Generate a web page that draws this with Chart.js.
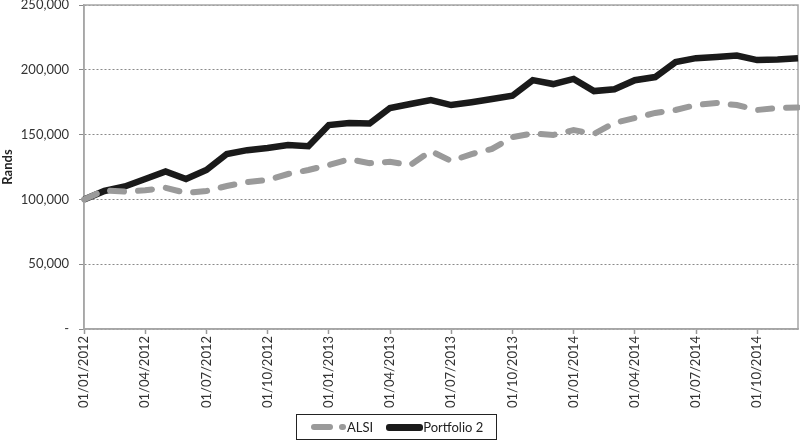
<!DOCTYPE html>
<html>
<head>
<meta charset="utf-8">
<script src="https://cdn.jsdelivr.net/npm/chart.js@4.4.1/dist/chart.umd.min.js"></script>
<style>
  html,body{margin:0;padding:0;background:#fff;}
  .wrap{position:relative;width:800px;height:441px;overflow:hidden;}
  #chart{position:absolute;left:0;top:0;}
  .legend{position:absolute;left:296px;top:414px;width:199px;height:24px;border:1.5px solid #222;
    font-family:Lato,"Open Sans",sans-serif;font-size:13px;color:#222;display:flex;align-items:center;}
  .pill{display:inline-block;height:6px;border-radius:3px;}
</style>
</head>
<body>
<div class="wrap">
  <canvas id="chart" width="800" height="441"></canvas>
  <div class="legend">
    <span class="pill" style="background:#9a9a9a;width:22px;margin-left:14px"></span>
    <span class="pill" style="background:#9a9a9a;width:7px;margin-left:6px"></span>
    <span style="margin-left:1px">ALSI</span>
    <span class="pill" style="background:#1a1a1a;width:37px;margin-left:13px;height:7px"></span>
    <span>Portfolio 2</span>
  </div>
</div>
<script>
// monthly, Jan 2012 .. Dec 2014
const months = [];
for (let y = 2012; y <= 2014; y++) for (let m = 1; m <= 12; m++) months.push('01/' + String(m).padStart(2,'0') + '/' + y);

const alsi = [100000,107000,106000,107000,109000,105000,106500,110300,113400,115000,119600,122700,
  126500,131000,128000,129000,126500,137300,129600,135000,139000,148000,151000,149700,
  153500,150500,159000,162800,166700,169000,172800,174400,172800,169000,170500,171000];
const portfolio2 = [100000,106500,110000,115700,121500,115700,122700,135000,138000,139700,142000,141000,
  157400,159000,158500,170500,173600,176700,172800,175000,177500,180000,192000,189000,
  193000,183600,185000,192000,194400,206000,209000,209900,211000,207500,208000,209000];

const yTicks = [0,50000,100000,150000,200000,250000];
const fmtY = (v) => v === 0 ? '-' : Number(v).toLocaleString('en-US');

const frame = {
  id: 'frame',
  beforeDatasetsDraw(chart){
    const {ctx, chartArea:a} = chart;
    ctx.save();
    ctx.strokeStyle = '#a6a6a6';
    ctx.lineWidth = 1.5;
    ctx.strokeRect(a.left, a.top, a.right - a.left, a.bottom - a.top);
    ctx.restore();
  }
};

new Chart(document.getElementById('chart'), {
  type: 'line',
  data: {
    labels: months,
    datasets: [
      {label:'ALSI', data:alsi, borderColor:'#9a9a9a', borderWidth:6, borderDash:[14,14],
        borderCapStyle:'round', pointRadius:0, tension:0, clip:false},
      {label:'Portfolio 2', data:portfolio2, borderColor:'#1a1a1a', borderWidth:6.5,
        pointRadius:0, tension:0, clip:false}
    ]
  },
  options: {
    responsive:false,
    animation:false,
    layout:{padding:{left:0, top:5, right:2, bottom:31}},
    plugins:{legend:{display:false}, tooltip:{enabled:false}},
    scales:{
      x:{
        offset:false,
        grid:{drawOnChartArea:false, tickLength:5, tickWidth:1.5,
          tickColor:(c)=> c.index % 3 === 0 ? '#999' : 'rgba(0,0,0,0)'},
        border:{color:'#a6a6a6', width:1.5},
        ticks:{autoSkip:false, minRotation:90, maxRotation:90, padding:2,
          color:'#333', font:{family:'Lato', size:13},
          callback:(v,i)=> i % 3 === 0 ? months[i] : ''},
        afterFit:(s)=>{ s.height = 81; s.paddingLeft = 0; s.paddingRight = 0; }
      },
      y:{
        min:0, max:250000,
        afterBuildTicks:(s)=>{ s.ticks = yTicks.map(v=>({value:v})); },
        grid:{color:'#8a8a8a', lineWidth:1, tickLength:5},
        border:{color:'#a6a6a6', width:1.5, dash:[2,2]},
        ticks:{padding:10, color:'#333', font:{family:'Lato', size:13}, callback:fmtY},
        title:{display:true, text:'Rands', color:'#222', font:{family:'Lato', size:13, weight:'bold'}, padding:{top:0,bottom:0}},
        afterFit:(s)=>{ s.width = 84; s.paddingTop = 0; s.paddingBottom = 0; }
      }
    }
  },
  plugins:[frame]
});
</script>
</body>
</html>
